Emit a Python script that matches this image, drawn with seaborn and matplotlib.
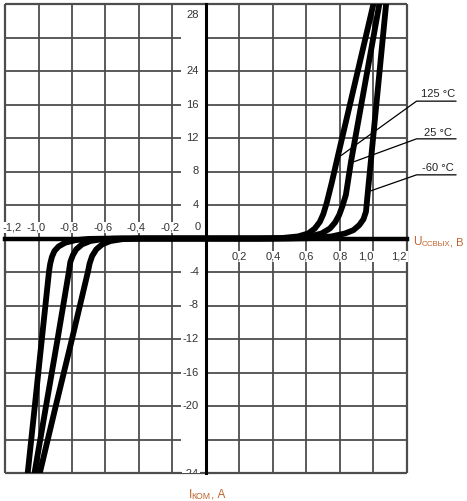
import numpy as np
import pandas as pd
import seaborn as sns
from matplotlib import pyplot as plt
from matplotlib.ticker import MultipleLocator

# I-U curves (reverse branch from the bottom, then forward branch)
u_125 = [-1.016, -0.897, -0.80, -0.704, -0.695, -0.68, -0.655, -0.62, -0.57, -0.50, -0.40,
         0.30, 0.45, 0.55, 0.61, 0.65, 0.68, 0.70, 0.72, 0.75, 0.788, 1.023]
i_125 = [-30, -20, -12, -3.9, -3.0, -2.1, -1.3, -0.7, -0.3, -0.08, 0,
         0, 0.05, 0.25, 0.6, 1.2, 2.0, 2.9, 4.2, 6.6, 9.9, 30]
u_25 = [-1.041, -0.955, -0.886, -0.818, -0.81, -0.795, -0.775, -0.74, -0.69, -0.62, -0.50,
        0.40, 0.52, 0.62, 0.69, 0.74, 0.77, 0.795, 0.815, 0.835, 0.866, 1.053]
i_25 = [-30, -20, -12, -3.9, -2.8, -2.0, -1.3, -0.7, -0.3, -0.08, 0,
        0, 0.05, 0.25, 0.6, 1.2, 1.9, 2.8, 3.9, 5.2, 9.2, 30]
u_m60 = [-1.075, -1.022, -0.98, -0.937, -0.93, -0.92, -0.905, -0.88, -0.84, -0.78, -0.70, -0.55,
         0.50, 0.64, 0.75, 0.83, 0.88, 0.915, 0.94, 0.955, 0.967, 1.085]
i_m60 = [-30, -20, -12, -3.9, -3.0, -2.2, -1.5, -0.95, -0.5, -0.2, -0.05, 0,
         0, 0.05, 0.25, 0.6, 1.0, 1.6, 2.3, 3.2, 5.7, 30]
temps = ["125 °C", "25 °C", "-60 °C"]

x_ticks = [-1.2, -1.0, -0.8, -0.6, -0.4, -0.2, 0.2, 0.4, 0.6, 0.8, 1.0, 1.2]
x_labels = ["-1,2", "-1,0", "-0,8", "-0,6", "-0,4", "-0,2", "0,2", "0,4", "0,6", "0,8", "1,0", "1,2"]
y_grid = [-24, -20, -16, -12, -8, -4, 4, 8, 12, 16, 20, 24]
y_ticks = [-28, -20, -16, -12, -8, -4, 4, 8, 12, 16, 20, 28]
y_labels = ["-24", "-20", "-16", "-12", "-8", "-4", "4", "8", "12", "16", "24", "28"]

# where the leader lines touch the curves
leader_pts = [(0.806, 9.9), (0.884, 9.17), (0.985, 5.7)]
label_y = [17.3, 12.6, 8.45]
underline_y = [16.4, 11.9, 7.6]

GRID = "#4d4d4d"
ORANGE = "#c0652e"

df = pd.concat([
    pd.DataFrame({"U": u_125, "I": i_125, "T": temps[0]}),
    pd.DataFrame({"U": u_25, "I": i_25, "T": temps[1]}),
    pd.DataFrame({"U": u_m60, "I": i_m60, "T": temps[2]}),
], ignore_index=True)

sns.set_style("white")
plt.rcParams["font.family"] = ["Liberation Sans", "DejaVu Sans"]

fig = plt.figure(figsize=(4.67, 5.01), dpi=100)
ax = fig.add_axes([5 / 467, 28 / 501, 402 / 467, 469 / 501])
ax.set_axisbelow(False)

# grid (horizontal lines leave a gap for the y labels)
ax.vlines(x_ticks, -28, 28, color=GRID, lw=1.3, zorder=1)
ax.hlines(y_grid, -1.2, -0.15, color=GRID, lw=1.3, zorder=1)
ax.hlines(y_grid, 0, 1.2, color=GRID, lw=1.3, zorder=1)
ax.hlines([-28, 28], -1.2, 1.2, color=GRID, lw=1.6, zorder=1, clip_on=False)
ax.vlines([-1.2, 1.2], -28, 28, color=GRID, lw=1.6, zorder=1, clip_on=False)

sns.lineplot(data=df, x="U", y="I", hue="T", units="T", estimator=None, sort=False,
             palette={t: "black" for t in temps}, legend=False, linewidth=4.2,
             ax=ax, zorder=4)

ax.set_xlim(-1.2, 1.2)
ax.set_ylim(-28, 28)
ax.set_xlabel("")
ax.set_ylabel("")

for s in ["top", "right"]:
    ax.spines[s].set_visible(False)
ax.spines["left"].set_position(("data", 0))
ax.spines["bottom"].set_position(("data", 0))
ax.spines["left"].set_linewidth(2.2)
ax.spines["bottom"].set_linewidth(3.2)
ax.spines["left"].set_color("black")
ax.spines["bottom"].set_color("black")
ax.xaxis.set_major_locator(MultipleLocator(0.2))
ax.tick_params(axis="x", length=0, labelbottom=False)
ax.yaxis.set_major_locator(MultipleLocator(4))
ax.yaxis.set_minor_locator(MultipleLocator(1))
ax.tick_params(axis="y", which="both", direction="inout", length=7, width=1.1,
               color="black", labelleft=False)

box = dict(facecolor="white", edgecolor="none", pad=0.6)
for x, lbl in zip(x_ticks, x_labels):
    if x < 0:
        dy, dx = 8, -2
    else:
        dy, dx = -13, 0
    ha = "center"
    if x == -1.2:
        ha = "left"
    elif x >= 1.0:
        ha = "right"
    ax.annotate(lbl, (x, 0), xytext=(dx, dy), textcoords="offset points", ha=ha,
                va="center", fontsize=8, color="#333333", bbox=box, zorder=2)
ax.annotate("0", (0, 0), xytext=(-6, 8), textcoords="offset points", ha="center",
            va="center", fontsize=8, color="#333333", zorder=2)

for y, lbl in zip(y_ticks, y_labels):
    if y == 28:
        va, dy = "top", -4
    elif y == -28:
        va, dy = "top", 3
    else:
        va, dy = "center", 0
    ax.annotate(lbl, (-0.042, y), xytext=(0, dy), textcoords="offset points", ha="right",
                va=va, fontsize=8, color="#333333", bbox=box, zorder=2, clip_on=True)

# temperature labels with leader lines
for t, (px, py), ty, uy in zip(temps, leader_pts, label_y, underline_y):
    ax.plot([1.493, 1.257, px], [uy, uy, py], color="black", lw=0.9, clip_on=False, zorder=5)
    ax.text(1.385, ty, t, ha="center", va="center", fontsize=8, color="#222222", clip_on=False)

# axis titles
tu = ax.text(1.236, -0.4, "U", ha="left", va="center", fontsize=8.5, color=ORANGE, clip_on=False)
tu2 = ax.annotate("ОСВЫХ", xy=(1, 0), xycoords=tu, ha="left", va="bottom", fontsize=5.6, color=ORANGE)
ax.annotate(", В", xy=(1, 0), xycoords=tu2, ha="left", va="bottom", fontsize=8, color=ORANGE)

ti = ax.text(-0.105, -30.6, "I", ha="left", va="center", fontsize=8.5, color=ORANGE, clip_on=False)
ti2 = ax.annotate("КОМ", xy=(1, 0), xycoords=ti, ha="left", va="bottom", fontsize=6.3, color=ORANGE)
ax.annotate(", А", xy=(1, 0), xycoords=ti2, ha="left", va="bottom", fontsize=8.5, color=ORANGE)

fig.savefig("out.png", dpi=100)
